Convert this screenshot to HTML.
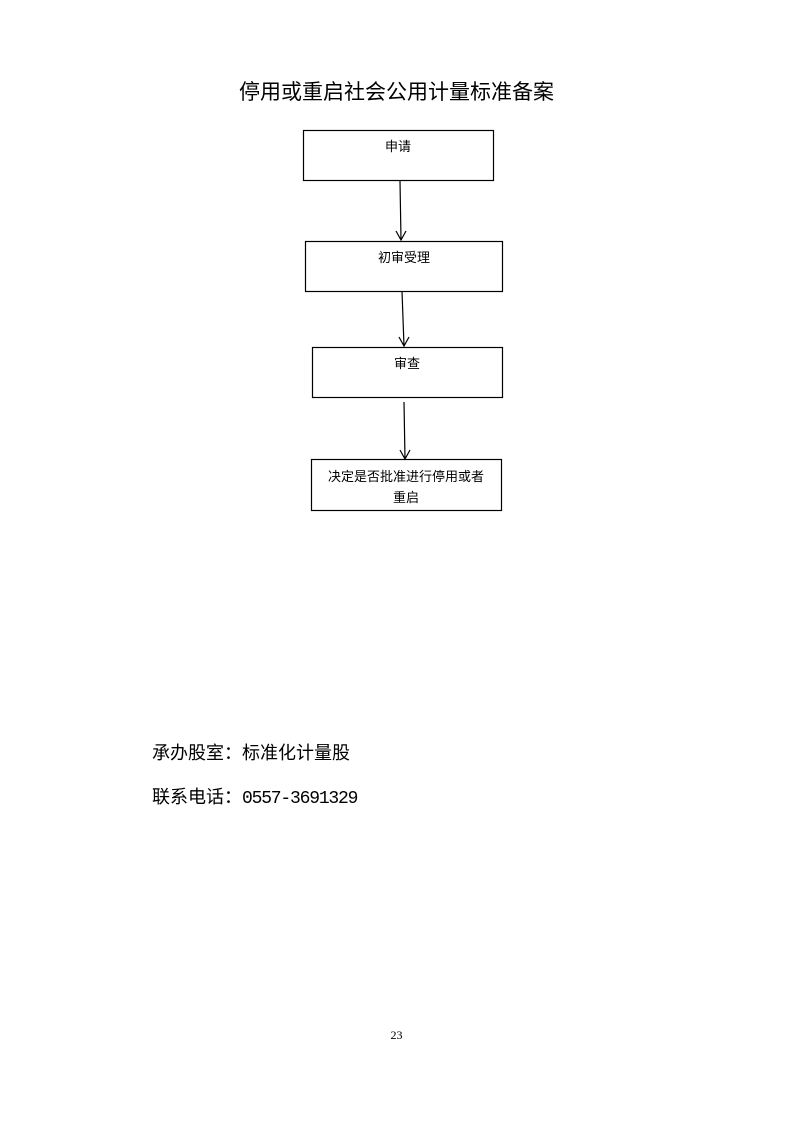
<!DOCTYPE html>
<html><head><meta charset="utf-8"><style>
body{margin:0;width:793px;height:1122px;background:#fff;position:relative;font-family:"Liberation Serif","Noto Serif CJK SC","Noto Sans CJK SC",serif;color:#000}
.t{position:absolute;white-space:nowrap}
.c{font-family:"Noto Sans CJK SC",sans-serif;font-size:18px}
.m{font-family:"Liberation Mono",monospace;font-size:18px;letter-spacing:-1.2px}
</style></head><body>
<div class="t" style="left:0;width:793px;text-align:center;top:76px;font-size:21px;font-family:'Liberation Sans','Noto Sans CJK SC',sans-serif">停用或重启社会公用计量标准备案</div>
<svg width="793" height="1122" style="position:absolute;left:0;top:0" font-family="Liberation Sans, Noto Sans CJK SC, sans-serif" font-size="13">
<g fill="none" stroke="#000" stroke-width="1.2">
<rect x="303.5" y="130.5" width="190" height="50"/>
<rect x="305.5" y="241.5" width="197" height="50"/>
<rect x="312.5" y="347.5" width="190" height="50"/>
<rect x="311.5" y="459.5" width="190" height="51"/>
<path d="M400 181L401 240M396 231L401 240L406 231"/>
<path d="M402 291L404 346M399 337L404 346L409 337"/>
<path d="M404 402L405 459M400 450L405 459L410 450"/>
</g>
<g text-anchor="middle">
<text x="398" y="151">申请</text>
<text x="404" y="262">初审受理</text>
<text x="407" y="368">审查</text>
<text x="406" y="481">决定是否批准进行停用或者</text>
<text x="406" y="502">重启</text>
</g>
</svg>
<div class="t c" style="left:152px;top:739px">承办股室：标准化计量股</div>
<div class="t c" style="left:152px;top:783px">联系电话：<span class="m">0557-3691329</span></div>
<div class="t" style="left:0;width:793px;text-align:center;top:1028px;font-size:12px">23</div>
</body></html>
